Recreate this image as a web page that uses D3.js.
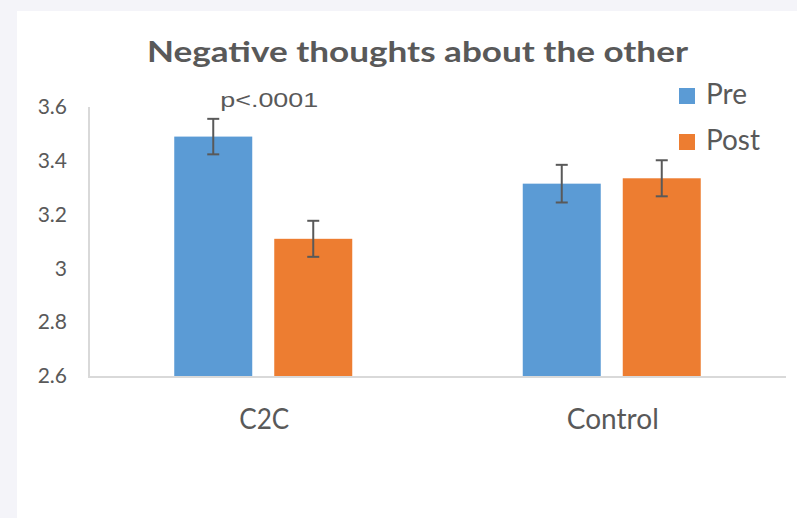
<!DOCTYPE html>
<html>
<head>
<meta charset="utf-8">
<script src="https://cdn.jsdelivr.net/npm/d3@7"></script>
<style>
  html, body { margin: 0; padding: 0; background: #f4f4f9; }
  svg { display: block; }
  text { font-family: Lato, "Open Sans", sans-serif; fill: #595959; }
</style>
</head>
<body>
<svg id="chart" width="797" height="518"></svg>
<script>
// data
var categories = ["C2C", "Control"];
var series = ["Pre", "Post"];
var preValues = [3.49, 3.315];
var postValues = [3.11, 3.335];
var preErrors = [0.066, 0.07];
var postErrors = [0.067, 0.067];
var yTicks = [2.6, 2.8, 3, 3.2, 3.4, 3.6];
var colors = ["#5b9bd5", "#ed7d31"];
var titleText = "Negative thoughts about the other";
var noteText = "p<.0001";

var svg = d3.select("#chart");

// white panel over the grey page
svg.append("rect")
    .attr("x", 17).attr("y", 11)
    .attr("width", 780).attr("height", 507)
    .attr("fill", "#ffffff");

var plot = { left: 89, right: 786, top: 107, bottom: 376 };

var y = d3.scaleLinear().domain([2.6, 3.6]).range([plot.bottom, plot.top]);
var x0 = d3.scaleBand().domain(categories).range([plot.left, plot.right]);
var x1 = d3.scaleBand().domain(series).range([0, x0.bandwidth()])
    .paddingInner(0.22).paddingOuter(0.8525);

// fit a text to a given width (Calibri is not installed)
function fit(sel, w) {
    sel.attr("textLength", w).attr("lengthAdjust", "spacingAndGlyphs");
}

// title
svg.append("text")
    .attr("x", 417.5).attr("y", 62)
    .attr("text-anchor", "middle")
    .style("font-size", "29px").style("font-weight", "bold")
    .text(titleText)
    .call(fit, 541);

// y axis
var yAxis = d3.axisLeft(y).tickValues(yTicks).tickSize(0).tickPadding(22)
    .tickFormat(function(d) { return d3.format("")(d); });
var gy = svg.append("g").attr("transform", "translate(" + plot.left + ",0)").call(yAxis);
gy.select(".domain").remove();
gy.selectAll("text")
    .style("font-size", "21px")
    .style("font-family", "Lato, sans-serif")
    .attr("fill", "#595959");

svg.append("line")
    .attr("x1", plot.left).attr("x2", plot.left)
    .attr("y1", plot.top).attr("y2", plot.bottom + 2)
    .attr("stroke", "#d9d9d9").attr("stroke-width", 2);

// bars
var rows = categories.map(function(c, i) {
    return [
        { cat: c, key: "Pre", value: preValues[i], err: preErrors[i], color: colors[0] },
        { cat: c, key: "Post", value: postValues[i], err: postErrors[i], color: colors[1] }
    ];
});

var groups = svg.selectAll(".group")
    .data(rows)
    .enter()
    .append("g")
    .attr("class", "group")
    .attr("transform", function(d) { return "translate(" + x0(d[0].cat) + ",0)"; });

groups.selectAll("rect")
    .data(function(d) { return d; })
    .enter()
    .append("rect")
    .attr("x", function(d) { return x1(d.key); })
    .attr("y", function(d) { return y(d.value); })
    .attr("width", x1.bandwidth())
    .attr("height", function(d) { return y(2.6) - y(d.value); })
    .attr("fill", function(d) { return d.color; });

// error bars
var errs = groups.selectAll(".err")
    .data(function(d) { return d; })
    .enter()
    .append("g")
    .attr("class", "err")
    .attr("stroke", "#595959")
    .attr("stroke-width", 2);

errs.append("line")
    .attr("x1", function(d) { return x1(d.key) + x1.bandwidth() / 2; })
    .attr("x2", function(d) { return x1(d.key) + x1.bandwidth() / 2; })
    .attr("y1", function(d) { return y(d.value + d.err); })
    .attr("y2", function(d) { return y(d.value - d.err); });

[1, -1].forEach(function(s) {
    errs.append("line")
        .attr("x1", function(d) { return x1(d.key) + x1.bandwidth() / 2 - 6; })
        .attr("x2", function(d) { return x1(d.key) + x1.bandwidth() / 2 + 6; })
        .attr("y1", function(d) { return y(d.value + s * d.err); })
        .attr("y2", function(d) { return y(d.value + s * d.err); });
});

// baseline
svg.append("line")
    .attr("x1", plot.left - 1).attr("x2", plot.right)
    .attr("y1", plot.bottom + 1).attr("y2", plot.bottom + 1)
    .attr("stroke", "#d9d9d9").attr("stroke-width", 2);

// category labels
var catWidths = { "C2C": 50, "Control": 92 };
svg.selectAll(".cat")
    .data(categories)
    .enter()
    .append("text")
    .attr("class", "cat")
    .attr("x", function(d) { return x0(d) + x0.bandwidth() / 2 + 1; })
    .attr("y", 429)
    .attr("text-anchor", "middle")
    .style("font-size", "28.5px")
    .text(function(d) { return d; })
    .each(function(d) { d3.select(this).call(fit, catWidths[d]); });

// significance note above C2C
svg.append("text")
    .attr("x", x0(categories[0]) + x1("Pre") + x1.bandwidth() / 2 + 56)
    .attr("y", 107)
    .attr("text-anchor", "middle")
    .style("font-family", "'Liberation Sans', Arial, sans-serif")
    .style("font-size", "20.5px")
    .text(noteText)
    .call(fit, 98);

// legend
var legendWidths = { "Pre": 41, "Post": 54 };
var legend = svg.selectAll(".legend")
    .data(series)
    .enter()
    .append("g")
    .attr("class", "legend")
    .attr("transform", function(d, i) { return "translate(679," + (88 + i * 46) + ")"; });

legend.append("rect")
    .attr("width", 16).attr("height", 16)
    .attr("fill", function(d, i) { return colors[i]; });

legend.append("text")
    .attr("x", 27).attr("y", 16)
    .style("font-size", "28px")
    .text(function(d) { return d; })
    .each(function(d) { d3.select(this).call(fit, legendWidths[d]); });
</script>
</body>
</html>
